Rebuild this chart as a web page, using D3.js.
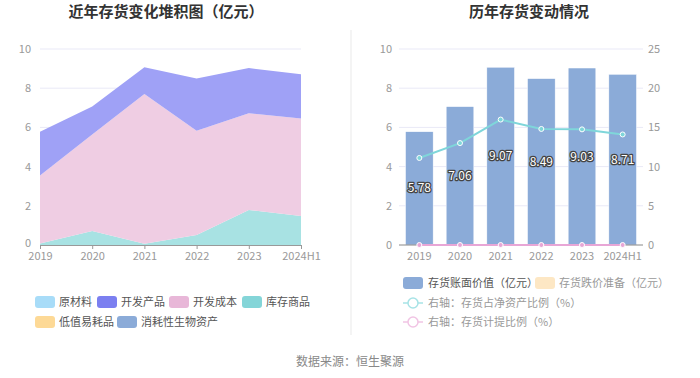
<!DOCTYPE html>
<html>
<head>
<meta charset="utf-8">
<script src="https://cdn.jsdelivr.net/npm/d3@7"></script>
<style>
  body { margin: 0; background: #fff; }
  svg { display: block; font-family: "Noto Sans CJK SC", "Noto Sans", sans-serif; }
</style>
</head>
<body>
<svg id="chart" width="700" height="378"></svg>
<script>
// data
var years = ["2019", "2020", "2021", "2022", "2023", "2024H1"];
var rawMaterial = [0, 0, 0, 0, 0, 0];            // 原材料
var stockGoods  = [0.08, 0.71, 0.07, 0.51, 1.79, 1.48]; // 库存商品
var devCost     = [3.46, 4.93, 7.63, 5.32, 4.93, 4.97]; // 开发成本
var devProduct  = [2.24, 1.42, 1.37, 2.66, 2.31, 2.26]; // 开发产品
var bookValue   = [5.78, 7.06, 9.07, 8.49, 9.03, 8.71];
var netAssetPct = [11.1, 13.0, 16.0, 14.8, 14.75, 14.1];
var provisionPct = [0, 0, 0, 0, 0, 0];
var leftTicks = [0, 2, 4, 6, 8, 10];
var rightTicks = [0, 5, 10, 15, 20, 25];

var svg = d3.select("#chart");

// titles + divider
svg.append("text").attr("x", 166).attr("y", 17).attr("text-anchor", "middle")
   .attr("font-size", 15).attr("font-weight", "bold").attr("fill", "#333")
   .text("近年存货变化堆积图（亿元）");
svg.append("text").attr("x", 529).attr("y", 17).attr("text-anchor", "middle")
   .attr("font-size", 15).attr("font-weight", "bold").attr("fill", "#333")
   .text("历年存货变动情况");
svg.append("line").attr("x1", 351).attr("x2", 351).attr("y1", 30).attr("y2", 335)
   .attr("stroke", "#f0f0f0").attr("stroke-width", 1.5);

var y = d3.scaleLinear().domain([0, 10]).range([245, 49]);

// ---------- left: stacked area ----------
var xl = d3.scalePoint().domain(years).range([40, 301]);

var gl = svg.append("g");
gl.selectAll(".grid").data(leftTicks.slice(1)).enter().append("line")
  .attr("x1", 40).attr("x2", 301)
  .attr("y1", function(d) { return y(d); }).attr("y2", function(d) { return y(d); })
  .attr("stroke", "#e9e9f7");

var rows = years.map(function(yr, i) {
  return { year: yr, raw: rawMaterial[i], stock: stockGoods[i], cost: devCost[i], prod: devProduct[i] };
});
var keys = ["raw", "stock", "cost", "prod"];
var areaColors = { raw: "#a8dcf8", stock: "#a8e2e3", cost: "#efcde3", prod: "#9fa1f6" };
var stack = d3.stack().keys(keys)(rows);
var area = d3.area()
  .x(function(d) { return xl(d.data.year); })
  .y0(function(d) { return y(d[0]); })
  .y1(function(d) { return y(d[1]); });

gl.selectAll(".layer").data(stack).enter().append("path")
  .attr("d", area)
  .attr("fill", function(d) { return areaColors[d.key]; });

var axL = gl.append("g").attr("transform", "translate(0,245)")
  .call(d3.axisBottom(xl).tickSize(4).tickPadding(3));
axL.select(".domain").attr("stroke", "#999");
axL.selectAll(".tick line").attr("stroke", "#999");
axL.selectAll("text").attr("fill", "#999").attr("font-size", 11).attr("font-family", "Noto Sans CJK SC");

gl.selectAll(".yl").data(leftTicks).enter().append("text")
  .attr("x", 31).attr("y", function(d) { return y(d) + (d === 0 ? 2 : 4); })
  .attr("text-anchor", "end").attr("font-size", 11).attr("fill", "#999")
  .text(function(d) { return d; });

// left legend
var legL = [
  { name: "原材料", color: "#a8dcf8", x: 35, y: 302 },
  { name: "开发产品", color: "#7b7ff0", x: 97, y: 302 },
  { name: "开发成本", color: "#e8b7d8", x: 169, y: 302 },
  { name: "库存商品", color: "#84d5d8", x: 242, y: 302 },
  { name: "低值易耗品", color: "#fdd996", x: 35, y: 322 },
  { name: "消耗性生物资产", color: "#8babd8", x: 117, y: 322 }
];
var lg = svg.selectAll(".legl").data(legL).enter().append("g");
lg.append("rect").attr("x", function(d) { return d.x; }).attr("y", function(d) { return d.y - 6; })
  .attr("width", 20).attr("height", 12).attr("rx", 3).attr("fill", function(d) { return d.color; });
lg.append("text").attr("x", function(d) { return d.x + 24; }).attr("y", function(d) { return d.y + 4; })
  .attr("font-size", 11).attr("fill", "#555").text(function(d) { return d.name; });

// ---------- right: bars + lines ----------
var xr = d3.scaleBand().domain(years).range([399, 643]).paddingInner(0.32).paddingOuter(0.16);
var yr = d3.scaleLinear().domain([0, 25]).range([245, 49]);
var gr = svg.append("g");

gr.selectAll(".grid").data(leftTicks.slice(1)).enter().append("line")
  .attr("x1", 399).attr("x2", 643)
  .attr("y1", function(d) { return y(d); }).attr("y2", function(d) { return y(d); })
  .attr("stroke", "#e9e9f7");

gr.selectAll(".bar").data(bookValue).enter().append("rect")
  .attr("x", function(d, i) { return xr(years[i]); })
  .attr("y", function(d) { return y(d); })
  .attr("width", xr.bandwidth())
  .attr("height", function(d) { return 245 - y(d); })
  .attr("fill", "#8babd8").attr("stroke", "#fff").attr("stroke-width", 0.5);

gr.append("line").attr("x1", 399).attr("x2", 643).attr("y1", 245).attr("y2", 245).attr("stroke", "#888");

gr.selectAll(".yl").data(leftTicks).enter().append("text")
  .attr("x", 392).attr("y", function(d) { return y(d) + 4; })
  .attr("text-anchor", "end").attr("font-size", 11).attr("fill", "#999")
  .text(function(d) { return d; });
gr.selectAll(".yr").data(rightTicks).enter().append("text")
  .attr("x", 648).attr("y", function(d) { return yr(d) + 4; })
  .attr("text-anchor", "start").attr("font-size", 11).attr("fill", "#999")
  .text(function(d) { return d; });
gr.selectAll(".xl").data(years).enter().append("text")
  .attr("x", function(d) { return xr(d) + xr.bandwidth() / 2; }).attr("y", 260)
  .attr("text-anchor", "middle").attr("font-size", 11).attr("fill", "#999")
  .text(function(d) { return d; });

var cx = function(d, i) { return xr(years[i]) + xr.bandwidth() / 2; };
var line1 = d3.line().x(cx).y(function(d) { return yr(d); });

gr.append("path").attr("d", line1(provisionPct)).attr("fill", "none").attr("stroke", "#e8a6d6").attr("stroke-width", 2);
gr.selectAll(".p2").data(provisionPct).enter().append("circle")
  .attr("cx", cx).attr("cy", function(d) { return yr(d); }).attr("r", 2.5)
  .attr("fill", "#e8a6d6").attr("stroke", "#fff").attr("stroke-width", 1);

gr.append("path").attr("d", line1(netAssetPct)).attr("fill", "none").attr("stroke", "#7fd6da").attr("stroke-width", 2);
gr.selectAll(".p1").data(netAssetPct).enter().append("circle")
  .attr("cx", cx).attr("cy", function(d) { return yr(d); }).attr("r", 2.5)
  .attr("fill", "#7fd6da").attr("stroke", "#fff").attr("stroke-width", 1);

// bar labels (placed at mid height of the bar)
gr.selectAll(".bl").data(bookValue).enter().append("text")
  .attr("x", cx).attr("y", function(d) { return y(d / 2) + 4; })
  .attr("text-anchor", "middle").attr("font-size", 12)
  .attr("fill", "#fff").attr("stroke", "#444").attr("stroke-width", 2.5)
  .attr("paint-order", "stroke").attr("stroke-linejoin", "round")
  .text(function(d) { return d.toFixed(2); });

// right legend
var lr = svg.append("g");
lr.append("rect").attr("x", 403).attr("y", 277).attr("width", 20).attr("height", 12).attr("rx", 3).attr("fill", "#8babd8");
lr.append("text").attr("x", 428).attr("y", 287).attr("font-size", 11).attr("fill", "#555").text("存货账面价值（亿元）");
lr.append("rect").attr("x", 535).attr("y", 277).attr("width", 20).attr("height", 12).attr("rx", 3).attr("fill", "#fde7c4");
lr.append("text").attr("x", 559).attr("y", 287).attr("font-size", 11).attr("fill", "#999").text("存货跌价准备（亿元）");

var lineLeg = [
  { name: "右轴：存货占净资产比例（%）", color: "#a7e3e6", y: 303 },
  { name: "右轴：存货计提比例（%）", color: "#f1c4e4", y: 322 }
];
var ll = lr.selectAll(".ll").data(lineLeg).enter().append("g");
ll.append("line").attr("x1", 403).attr("x2", 423).attr("y1", function(d) { return d.y; }).attr("y2", function(d) { return d.y; })
  .attr("stroke", function(d) { return d.color; }).attr("stroke-width", 1.5);
ll.append("circle").attr("cx", 413).attr("cy", function(d) { return d.y; }).attr("r", 5)
  .attr("fill", "#fff").attr("stroke", function(d) { return d.color; }).attr("stroke-width", 1.5);
ll.append("text").attr("x", 428).attr("y", function(d) { return d.y + 4; }).attr("font-size", 11).attr("fill", "#999")
  .text(function(d) { return d.name; });

// footer
svg.append("text").attr("x", 350).attr("y", 366).attr("text-anchor", "middle")
   .attr("font-size", 12).attr("fill", "#888").text("数据来源：恒生聚源");
</script>
</body>
</html>
